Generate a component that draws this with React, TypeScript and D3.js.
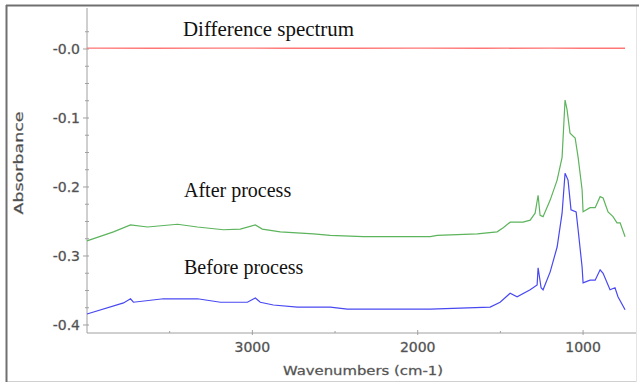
import React from "react";
import * as d3 from "d3";

// ---- data ----
const afterWavenumbers = [4000, 3840, 3737, 3634, 3453, 3332, 3175, 3073, 2982, 2940, 2831, 2631, 2529, 2329, 1924, 1882, 1640, 1520, 1483, 1441, 1363, 1320, 1290, 1272, 1260, 1242, 1199, 1157, 1127, 1109, 1097, 1079, 1048, 1030, 1006, 1000, 958, 927, 897, 879, 849, 819, 795, 776, 746];
const afterAbsorbance = [-0.278, -0.265, -0.255, -0.258, -0.254, -0.258, -0.262, -0.261, -0.255, -0.261, -0.265, -0.268, -0.270, -0.272, -0.272, -0.270, -0.268, -0.265, -0.259, -0.251, -0.251, -0.248, -0.238, -0.212, -0.241, -0.243, -0.219, -0.190, -0.157, -0.074, -0.088, -0.122, -0.129, -0.157, -0.204, -0.236, -0.230, -0.230, -0.214, -0.216, -0.236, -0.243, -0.252, -0.252, -0.272];

const beforeWavenumbers = [4000, 3779, 3737, 3719, 3538, 3332, 3193, 3030, 2982, 2952, 2873, 2728, 2529, 2426, 1924, 1562, 1502, 1441, 1399, 1320, 1278, 1272, 1254, 1242, 1199, 1157, 1127, 1109, 1091, 1073, 1042, 1030, 1006, 1000, 958, 927, 897, 879, 837, 807, 789, 746];
const beforeAbsorbance = [-0.384, -0.368, -0.362, -0.367, -0.362, -0.362, -0.367, -0.367, -0.361, -0.367, -0.371, -0.374, -0.374, -0.377, -0.377, -0.374, -0.367, -0.354, -0.359, -0.349, -0.342, -0.317, -0.346, -0.349, -0.323, -0.287, -0.238, -0.180, -0.190, -0.233, -0.236, -0.262, -0.316, -0.339, -0.335, -0.335, -0.320, -0.325, -0.349, -0.346, -0.359, -0.378];

const diffWavenumbers = [4000, 3600, 3200, 2800, 2400, 2000, 1600, 1200, 1000, 746];
const diffAbsorbance = [0.0012, 0.0010, 0.0013, 0.0011, 0.0010, 0.0012, 0.0011, 0.0013, 0.0011, 0.0011];

const yTickValues = [0, -0.1, -0.2, -0.3, -0.4];
const yTickLabels = ["-0.0", "-0.1", "-0.2", "-0.3", "-0.4"];
const yMinorTicks = [0.025, -0.025, -0.05, -0.075, -0.125, -0.15, -0.175, -0.225, -0.25, -0.275, -0.325, -0.35, -0.375];
const xTickValues = [3000, 2000, 1000];
const xTickLabels = ["3000", "2000", "1000"];
const xMinorTicks = [3500, 2500, 1500];

const seriesLabels = ["Difference spectrum", "After process", "Before process"];

export default function App() {
  const W = 639, H = 383;
  const left = 87, right = 636, top = 8, bottom = 333;
  const x = d3.scaleLinear().domain([4000, 680]).range([left, right]);
  const y = d3.scaleLinear().domain([0.0594, -0.4116]).range([top, bottom]);
  const line = d3.line<[number, number]>().x(d => x(d[0])).y(d => y(d[1]));
  const zip = (a: number[], b: number[]) => a.map((v, i) => [v, b[i]] as [number, number]);
  const axisColor = "#a0a0a0";
  const tickFont = "DejaVu Sans, sans-serif";
  const serif = "Liberation Serif, Times New Roman, serif";

  return (
    <svg width={W} height={H} style={{ position: "absolute", left: 0, top: 0, background: "#fff" }}>
      {/* outer frame */}
      <rect x={0} y={0} width={W} height={H} fill="#fff" />
      <line x1={6} y1={381.5} x2={637} y2={381.5} stroke="#d0d0d0" strokeWidth={1} />
      <line x1={636.5} y1={5} x2={636.5} y2={382} stroke="#e4e4e4" strokeWidth={1} />
      <line x1={6} y1={5.5} x2={639} y2={5.5} stroke="#707070" strokeWidth={2} />
      <line x1={6.5} y1={5} x2={6.5} y2={382} stroke="#707070" strokeWidth={2} />

      {/* axes */}
      <line x1={left} y1={top} x2={left} y2={bottom} stroke={axisColor} strokeWidth={1} />
      <line x1={left} y1={bottom} x2={right} y2={bottom} stroke={axisColor} strokeWidth={1} />
      {yTickValues.map((v, i) => (
        <g key={"yt" + i}>
          <line x1={left - 4} x2={left + 2} y1={y(v)} y2={y(v)} stroke={axisColor} />
          <text x={80} y={y(v) + 5} textAnchor="end" fontFamily={tickFont} fontSize={14} fill="#444" stroke="#777" strokeWidth={0.35}>{yTickLabels[i]}</text>
        </g>
      ))}
      {yMinorTicks.map((v, i) => (
        <line key={"ym" + i} x1={left - 2} x2={left + 2} y1={y(v)} y2={y(v)} stroke={axisColor} />
      ))}
      {xTickValues.map((v, i) => (
        <g key={"xt" + i}>
          <line x1={x(v)} x2={x(v)} y1={bottom - 3} y2={bottom + 2} stroke={axisColor} />
          <text x={x(v)} y={352} textAnchor="middle" fontFamily={tickFont} fontSize={14} fill="#444" stroke="#777" strokeWidth={0.35}>{xTickLabels[i]}</text>
        </g>
      ))}
      {xMinorTicks.map((v, i) => (
        <line key={"xm" + i} x1={x(v)} x2={x(v)} y1={bottom - 2} y2={bottom} stroke={axisColor} />
      ))}

      {/* axis titles */}
      <text x={363} y={375} textAnchor="middle" fontFamily={tickFont} fontSize={12} fill="#444" stroke="#777" strokeWidth={0.3} textLength={160} lengthAdjust="spacingAndGlyphs">Wavenumbers (cm-1)</text>
      <text transform="translate(23,163) rotate(-90)" textAnchor="middle" fontFamily={tickFont} fontSize={12} fill="#444" stroke="#777" strokeWidth={0.3} textLength={103} lengthAdjust="spacingAndGlyphs">Absorbance</text>

      {/* spectra */}
      <path d={line(zip(diffWavenumbers, diffAbsorbance)) || ""} fill="none" stroke="#ff7676" strokeWidth={1.4} />
      <path d={line(zip(afterWavenumbers, afterAbsorbance)) || ""} fill="none" stroke="#5cb45c" strokeWidth={1.2} />
      <path d={line(zip(beforeWavenumbers, beforeAbsorbance)) || ""} fill="none" stroke="#4848f2" strokeWidth={1.2} />

      {/* annotations */}
      <text x={183} y={36} fontFamily={serif} fontSize={20} fill="#111" textLength={171} lengthAdjust="spacingAndGlyphs">{seriesLabels[0]}</text>
      <text x={184} y={197} fontFamily={serif} fontSize={20} fill="#111">{seriesLabels[1]}</text>
      <text x={184} y={274} fontFamily={serif} fontSize={20} fill="#111">{seriesLabels[2]}</text>
    </svg>
  );
}
